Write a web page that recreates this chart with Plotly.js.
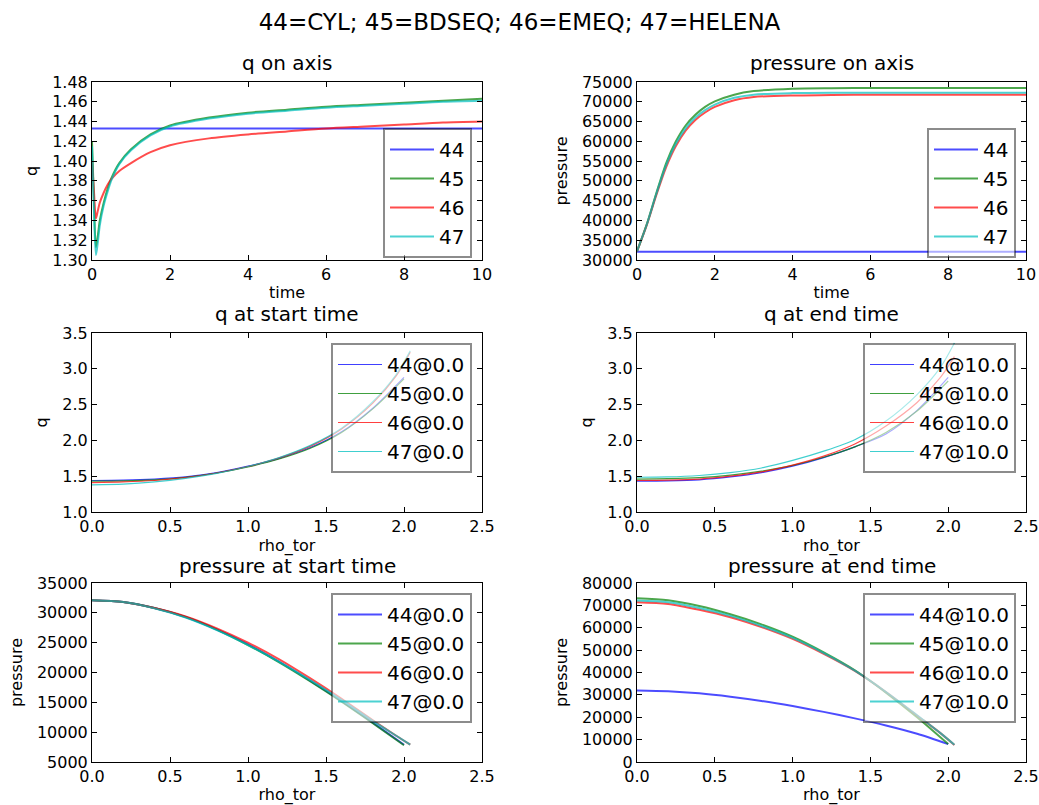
<!DOCTYPE html>
<html>
<head>
<meta charset="utf-8">
<script src="https://cdn.plot.ly/plotly-3.0.1.min.js"></script>
<style>html,body{margin:0;padding:0;background:#fff;}#chart{width:1039px;height:805px;}</style>
</head>
<body>
<div id="chart"></div>
<script>
// ---------- data ----------
const seriesNames = ['44', '45', '46', '47'];
const mainTitle = '44=CYL; 45=BDSEQ; 46=EMEQ; 47=HELENA';
const panelTitles = ['q on axis', 'pressure on axis', 'q at start time', 'q at end time', 'pressure at start time', 'pressure at end time'];

// q on axis vs time
const tFlat = [0, 10];
const tAxisQ = [0, 0.05, 0.1, 0.15, 0.2, 0.3, 0.4, 0.5, 0.7, 1.0, 1.5, 2, 3, 4, 5, 6, 7, 8, 9, 10];
const qAxis44 = [1.433, 1.433];
const qAxis45 = [1.420, 1.360, 1.313, 1.325, 1.340, 1.358, 1.372, 1.383, 1.398, 1.412, 1.427, 1.436, 1.444, 1.449, 1.452, 1.455, 1.457, 1.459, 1.461, 1.463];
const qAxis46 = [1.400, 1.370, 1.342, 1.350, 1.358, 1.368, 1.376, 1.382, 1.390, 1.398, 1.409, 1.416, 1.423, 1.427, 1.430, 1.433, 1.435, 1.437, 1.439, 1.440];
const qAxis47 = [1.415, 1.350, 1.305, 1.318, 1.335, 1.355, 1.369, 1.381, 1.397, 1.411, 1.426, 1.435, 1.443, 1.448, 1.451, 1.454, 1.456, 1.458, 1.460, 1.461];

// pressure on axis vs time
const tAxisP = [0, 0.25, 0.5, 0.75, 1.0, 1.25, 1.5, 1.75, 2.0, 2.5, 3, 4, 5, 6, 8, 10];
const pAxis44 = [32100, 32100];
const pAxis45 = [32200, 39000, 47000, 54500, 60000, 64000, 66700, 68700, 70100, 71800, 72700, 73300, 73450, 73500, 73500, 73500];
const pAxis46 = [32200, 38800, 46500, 53500, 58800, 62700, 65400, 67300, 68700, 70400, 71200, 71600, 71700, 71800, 71800, 71800];
const pAxis47 = [32200, 38900, 46800, 54000, 59400, 63300, 66000, 67900, 69300, 71000, 71800, 72200, 72300, 72300, 72300, 72300];

// profiles vs rho_tor
const rhoA = [0, 0.2, 0.4, 0.6, 0.8, 1.0, 1.2, 1.4, 1.6, 1.8, 2.0];
const rhoB = [0, 0.2, 0.4, 0.6, 0.8, 1.0, 1.2, 1.4, 1.6, 1.8, 1.95, 2.04];

const qStart44 = [1.44, 1.445, 1.46, 1.49, 1.55, 1.64, 1.75, 1.90, 2.12, 2.45, 2.88];
const qStart45 = [1.43, 1.435, 1.45, 1.485, 1.545, 1.63, 1.74, 1.89, 2.11, 2.44, 2.86];
const qStart46 = [1.41, 1.42, 1.44, 1.48, 1.545, 1.635, 1.755, 1.92, 2.16, 2.52, 2.90, 3.23];
const qStart47 = [1.38, 1.39, 1.42, 1.47, 1.54, 1.635, 1.76, 1.93, 2.17, 2.54, 2.92, 3.25];

const qEnd44 = [1.43, 1.435, 1.45, 1.49, 1.55, 1.64, 1.76, 1.91, 2.09, 2.42, 2.88];
const qEnd45 = [1.46, 1.465, 1.48, 1.515, 1.57, 1.65, 1.765, 1.91, 2.11, 2.41, 2.83];
const qEnd46 = [1.44, 1.445, 1.46, 1.50, 1.56, 1.655, 1.78, 1.95, 2.20, 2.53, 2.88, 3.17];
const qEnd47 = [1.485, 1.49, 1.51, 1.55, 1.615, 1.72, 1.85, 2.01, 2.27, 2.64, 3.02, 3.36];

const pStart44 = [32100, 31800, 30800, 29300, 27200, 24700, 21800, 18600, 15200, 11600, 7900];
const pStart45 = [32100, 31800, 30800, 29300, 27200, 24600, 21700, 18500, 15100, 11500, 7800];
const pStart46 = [32100, 31800, 30800, 29400, 27400, 25000, 22200, 19000, 15600, 12000, 9400, 7900];
const pStart47 = [32100, 31800, 30750, 29200, 27100, 24600, 21800, 18700, 15400, 11900, 9400, 7900];

const pEnd44 = [32000, 31650, 30700, 29200, 27300, 25000, 22400, 19500, 16300, 12600, 8000];
const pEnd45 = [73200, 72300, 69700, 66000, 61500, 56000, 49000, 41000, 31000, 20000, 8000];
const pEnd46 = [71400, 70600, 68000, 64700, 60300, 55000, 48300, 40700, 31300, 20800, 12900, 7600];
const pEnd47 = [72200, 71400, 68800, 65300, 60800, 55500, 48700, 40800, 31300, 20900, 12900, 7700];

const startLabel = '@0.0';
const endLabel = '@10.0';

// ---------- styling ----------
const FONT = 'DejaVu Sans, Bitstream Vera Sans, sans-serif';
const rgb = [[0, 0, 255], [0, 128, 0], [255, 0, 0], [0, 191, 191]];
function col(i, a) { return 'rgba(' + rgb[i].join(',') + ',' + a + ')'; }

const traces = [];
function add(xs, ys, i, name, xa, ya, leg, width, alpha) {
  traces.push({
    type: 'scatter', mode: 'lines', x: xs, y: ys, name: name,
    xaxis: xa, yaxis: ya, legend: leg, legendgroup: leg + '_' + i,
    line: { color: col(i, alpha), width: width, shape: 'spline', smoothing: 0.8 },
    hoverinfo: 'skip'
  });
}

// panel 1
add(tFlat, qAxis44, 0, seriesNames[0], 'x', 'y', 'legend', 2, 0.7);
add(tAxisQ, qAxis45, 1, seriesNames[1], 'x', 'y', 'legend', 2, 0.7);
add(tAxisQ, qAxis46, 2, seriesNames[2], 'x', 'y', 'legend', 2, 0.7);
add(tAxisQ, qAxis47, 3, seriesNames[3], 'x', 'y', 'legend', 2, 0.7);
// panel 2
add(tFlat, pAxis44, 0, seriesNames[0], 'x2', 'y2', 'legend2', 2, 0.7);
add(tAxisP, pAxis45, 1, seriesNames[1], 'x2', 'y2', 'legend2', 2, 0.7);
add(tAxisP, pAxis46, 2, seriesNames[2], 'x2', 'y2', 'legend2', 2, 0.7);
add(tAxisP, pAxis47, 3, seriesNames[3], 'x2', 'y2', 'legend2', 2, 0.7);
// panel 3
add(rhoA, qStart44, 0, seriesNames[0] + startLabel, 'x3', 'y3', 'legend3', 1.2, 0.75);
add(rhoA, qStart45, 1, seriesNames[1] + startLabel, 'x3', 'y3', 'legend3', 1.2, 0.75);
add(rhoB, qStart46, 2, seriesNames[2] + startLabel, 'x3', 'y3', 'legend3', 1.2, 0.75);
add(rhoB, qStart47, 3, seriesNames[3] + startLabel, 'x3', 'y3', 'legend3', 1.2, 0.75);
// panel 4
add(rhoA, qEnd44, 0, seriesNames[0] + endLabel, 'x4', 'y4', 'legend4', 1.2, 0.75);
add(rhoA, qEnd45, 1, seriesNames[1] + endLabel, 'x4', 'y4', 'legend4', 1.2, 0.75);
add(rhoB, qEnd46, 2, seriesNames[2] + endLabel, 'x4', 'y4', 'legend4', 1.2, 0.75);
add(rhoB, qEnd47, 3, seriesNames[3] + endLabel, 'x4', 'y4', 'legend4', 1.2, 0.75);
// panel 5
add(rhoA, pStart44, 0, seriesNames[0] + startLabel, 'x5', 'y5', 'legend5', 2, 0.7);
add(rhoA, pStart45, 1, seriesNames[1] + startLabel, 'x5', 'y5', 'legend5', 2, 0.7);
add(rhoB, pStart46, 2, seriesNames[2] + startLabel, 'x5', 'y5', 'legend5', 2, 0.7);
add(rhoB, pStart47, 3, seriesNames[3] + startLabel, 'x5', 'y5', 'legend5', 2, 0.7);
// panel 6
add(rhoA, pEnd44, 0, seriesNames[0] + endLabel, 'x6', 'y6', 'legend6', 2, 0.7);
add(rhoA, pEnd45, 1, seriesNames[1] + endLabel, 'x6', 'y6', 'legend6', 2, 0.7);
add(rhoB, pEnd46, 2, seriesNames[2] + endLabel, 'x6', 'y6', 'legend6', 2, 0.7);
add(rhoB, pEnd47, 3, seriesNames[3] + endLabel, 'x6', 'y6', 'legend6', 2, 0.7);

const W = 1039, H = 805;
const colX = [[92 / W, 482 / W], [637 / W, 1026 / W]];
const rowY = [[1 - 260 / H, 1 - 82 / H], [1 - 512 / H, 1 - 333 / H], [1 - 762 / H, 1 - 583 / H]];

function axis(letter, domain, anchor, range, dtick, fmt, title) {
  return {
    domain: domain, anchor: anchor, range: range, dtick: dtick, tick0: 0,
    tickmode: 'linear', tickformat: fmt,
    showline: true, linecolor: '#000', linewidth: 1, mirror: 'ticks',
    ticks: 'inside', ticklen: 5, tickcolor: '#000', tickwidth: 1,
    showgrid: false, zeroline: false, fixedrange: true,
    tickfont: { family: FONT, size: 16, color: '#000' },
    title: { text: title, standoff: letter === 'x' ? 3 : 10, font: { family: FONT, size: 16, color: '#000' } }
  };
}

function legend(xr, yt, iw) {
  return {
    x: xr, y: yt, xanchor: 'right', yanchor: 'top', xref: 'paper', yref: 'paper',
    bgcolor: 'rgba(255,255,255,0.55)', bordercolor: 'rgba(0,0,0,0.45)', borderwidth: 2,
    font: { family: FONT, size: 20, color: '#000' }, itemwidth: iw,
    traceorder: 'normal', tracegroupgap: 0
  };
}

const titleY = [63, 314, 566];
const annotations = [];
for (let r = 0; r < 3; r++) {
  for (let c = 0; c < 2; c++) {
    annotations.push({
      text: panelTitles[r * 2 + c], xref: 'paper', yref: 'paper',
      x: (colX[c][0] + colX[c][1]) / 2, y: 1 - titleY[r] / H,
      xanchor: 'center', yanchor: 'middle', showarrow: false,
      font: { family: FONT, size: 20, color: '#000' }
    });
  }
}

const layout = {
  width: W, height: H,
  margin: { l: 0, r: 0, t: 0, b: 0 },
  paper_bgcolor: '#fff', plot_bgcolor: '#fff',
  showlegend: true,
  title: { text: mainTitle, x: 0.5, xanchor: 'center', y: 1 - 22 / H, yanchor: 'middle', yref: 'container',
           font: { family: FONT, size: 23, color: '#000' } },
  xaxis:  axis('x', colX[0], 'y',  [0, 10], 2, 'd', 'time'),
  yaxis:  axis('y', rowY[0], 'x',  [1.30, 1.48], 0.02, '.2f', 'q'),
  xaxis2: axis('x', colX[1], 'y2', [0, 10], 2, 'd', 'time'),
  yaxis2: axis('y', rowY[0], 'x2', [30000, 75000], 5000, 'd', 'pressure'),
  xaxis3: axis('x', colX[0], 'y3', [0, 2.5], 0.5, '.1f', 'rho_tor'),
  yaxis3: axis('y', rowY[1], 'x3', [1.0, 3.5], 0.5, '.1f', 'q'),
  xaxis4: axis('x', colX[1], 'y4', [0, 2.5], 0.5, '.1f', 'rho_tor'),
  yaxis4: axis('y', rowY[1], 'x4', [1.0, 3.5], 0.5, '.1f', 'q'),
  xaxis5: axis('x', colX[0], 'y5', [0, 2.5], 0.5, '.1f', 'rho_tor'),
  yaxis5: axis('y', rowY[2], 'x5', [5000, 35000], 5000, 'd', 'pressure'),
  xaxis6: axis('x', colX[1], 'y6', [0, 2.5], 0.5, '.1f', 'rho_tor'),
  yaxis6: axis('y', rowY[2], 'x6', [0, 80000], 10000, 'd', 'pressure'),
  legend:  legend(472 / W, 1 - 128 / H, 44),
  legend2: legend(1016 / W, 1 - 128 / H, 44),
  legend3: legend(472 / W, 1 - 343 / H, 44),
  legend4: legend(1016 / W, 1 - 343 / H, 44),
  legend5: legend(472 / W, 1 - 593 / H, 44),
  legend6: legend(1016 / W, 1 - 593 / H, 44),
  annotations: annotations
};

Plotly.newPlot('chart', traces, layout, { displayModeBar: false, staticPlot: true });
</script>
</body>
</html>
